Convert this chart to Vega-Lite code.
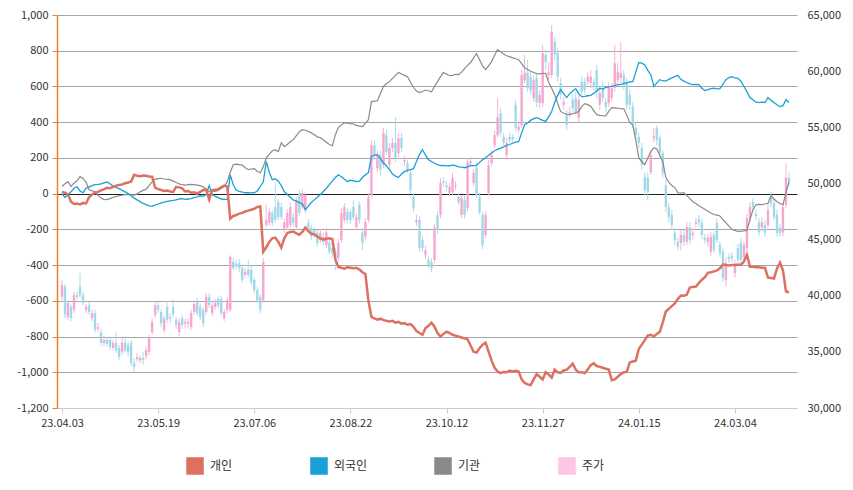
{
"$schema":"https://vega.github.io/schema/vega-lite/v6.json",
"width":740,"height":393,
"autosize":{"type":"none"},
"padding":{"left":57,"top":15,"right":56,"bottom":82},
"config":{"font":"Noto Sans CJK KR","view":{"stroke":null},"axis":{"labelFontSize":11,"labelColor":"#333333","labelFont":"Noto Sans CJK KR"}},
"data":{"values":[
{"i":0,"o":39900,"c":40950,"h":41400,"l":39600,"a":10,"b":0,"g":40},
{"i":1,"o":40800,"c":38300,"h":41050,"l":38000,"a":5,"b":-22,"g":55},
{"i":2,"o":38100,"c":39350,"h":39600,"l":37850,"a":-5,"b":-5,"g":67},
{"i":3,"o":39000,"c":38000,"h":39250,"l":37750,"a":-45,"b":10,"g":40},
{"i":4,"o":38750,"c":40050,"h":40350,"l":38450,"a":-58,"b":30,"g":60},
{"i":5,"o":40050,"c":39900,"h":40400,"l":39600,"a":-55,"b":38,"g":72},
{"i":6,"o":40800,"c":40050,"h":42000,"l":39800,"a":-60,"b":15,"g":95},
{"i":7,"o":40050,"c":39350,"h":40350,"l":39150,"a":-52,"b":5,"g":85},
{"i":8,"o":38750,"c":39000,"h":39250,"l":38450,"a":-55,"b":30,"g":65},
{"i":9,"o":39150,"c":38550,"h":39450,"l":38300,"a":-20,"b":38,"g":22},
{"i":10,"o":38000,"c":38450,"h":38750,"l":37750,"a":-5,"b":45,"g":15},
{"i":11,"o":38450,"c":36950,"h":38750,"l":36700,"a":5,"b":50,"g":12},
{"i":12,"o":37050,"c":37200,"h":37550,"l":36750,"a":10,"b":52,"g":-10},
{"i":13,"o":36750,"c":35800,"h":37050,"l":35500,"a":18,"b":55,"g":-25},
{"i":14,"o":35800,"c":36050,"h":36400,"l":35500,"a":25,"b":60,"g":-33},
{"i":15,"o":36050,"c":35700,"h":36300,"l":35450,"a":33,"b":65,"g":-32},
{"i":16,"o":36050,"c":35450,"h":36400,"l":35150,"a":30,"b":55,"g":-28},
{"i":17,"o":35350,"c":35800,"h":36050,"l":35100,"a":38,"b":42,"g":-20},
{"i":18,"o":35800,"c":35150,"h":36750,"l":34900,"a":45,"b":35,"g":-17},
{"i":19,"o":35350,"c":34550,"h":35600,"l":34250,"a":48,"b":28,"g":-12},
{"i":20,"o":35000,"c":35800,"h":36250,"l":34700,"a":52,"b":18,"g":-8},
{"i":21,"o":35800,"c":35150,"h":36400,"l":34900,"a":58,"b":10,"g":-5},
{"i":22,"o":35600,"c":35000,"h":35900,"l":34650,"a":62,"b":0,"g":-6},
{"i":23,"o":35800,"c":34000,"h":36050,"l":33750,"a":68,"b":-12,"g":-5},
{"i":24,"o":34000,"c":33650,"h":34450,"l":33200,"a":105,"b":-25,"g":-8},
{"i":25,"o":34350,"c":34550,"h":34900,"l":34100,"a":100,"b":-35,"g":-2},
{"i":26,"o":34250,"c":34450,"h":34700,"l":34000,"a":98,"b":-45,"g":10},
{"i":27,"o":34450,"c":34250,"h":35000,"l":33850,"a":102,"b":-55,"g":18},
{"i":28,"o":34650,"c":35150,"h":35450,"l":34350,"a":100,"b":-62,"g":25},
{"i":29,"o":35000,"c":36250,"h":36500,"l":34700,"a":96,"b":-68,"g":45},
{"i":30,"o":36750,"c":37650,"h":38000,"l":36500,"a":95,"b":-70,"g":67},
{"i":31,"o":38300,"c":39150,"h":39450,"l":38000,"a":33,"b":-65,"g":80},
{"i":32,"o":39150,"c":38750,"h":39450,"l":38450,"a":25,"b":-58,"g":84},
{"i":33,"o":38550,"c":37550,"h":38800,"l":37200,"a":20,"b":-52,"g":86},
{"i":34,"o":36950,"c":37950,"h":38200,"l":36700,"a":15,"b":-48,"g":82},
{"i":35,"o":39000,"c":37850,"h":39350,"l":37550,"a":18,"b":-43,"g":80},
{"i":36,"o":38100,"c":37950,"h":38450,"l":37550,"a":12,"b":-40,"g":78},
{"i":37,"o":39000,"c":38350,"h":39700,"l":38100,"a":10,"b":-38,"g":70},
{"i":38,"o":37850,"c":37400,"h":38100,"l":37050,"a":38,"b":-35,"g":62},
{"i":39,"o":36750,"c":37650,"h":38000,"l":36400,"a":35,"b":-30,"g":55},
{"i":40,"o":38000,"c":37400,"h":38300,"l":37050,"a":30,"b":-28,"g":50},
{"i":41,"o":37500,"c":37650,"h":37950,"l":37100,"a":12,"b":-32,"g":48},
{"i":42,"o":37500,"c":37650,"h":38000,"l":37050,"a":15,"b":-30,"g":50},
{"i":43,"o":37200,"c":38450,"h":38750,"l":36950,"a":5,"b":-28,"g":52},
{"i":44,"o":38550,"c":39250,"h":39600,"l":38300,"a":8,"b":-22,"g":50},
{"i":45,"o":39450,"c":38450,"h":39800,"l":38200,"a":0,"b":-18,"g":48},
{"i":46,"o":39000,"c":38100,"h":39350,"l":37850,"a":10,"b":-12,"g":45},
{"i":47,"o":38750,"c":37550,"h":39000,"l":37200,"a":20,"b":-15,"g":39},
{"i":48,"o":38550,"c":39900,"h":40250,"l":38300,"a":22,"b":-5,"g":25},
{"i":49,"o":39900,"c":39150,"h":40250,"l":38900,"a":-33,"b":45,"g":11},
{"i":50,"o":38450,"c":39150,"h":39450,"l":38200,"a":20,"b":-5,"g":15},
{"i":51,"o":39000,"c":39350,"h":39700,"l":38750,"a":22,"b":-15,"g":12},
{"i":52,"o":39700,"c":39150,"h":39950,"l":38900,"a":25,"b":-22,"g":18},
{"i":53,"o":39700,"c":38450,"h":39950,"l":38200,"a":35,"b":-30,"g":30},
{"i":54,"o":38000,"c":38550,"h":38800,"l":37750,"a":45,"b":-32,"g":40},
{"i":55,"o":38750,"c":39600,"h":39900,"l":38450,"a":40,"b":-32,"g":67},
{"i":56,"o":38750,"c":43450,"h":43600,"l":38550,"a":-140,"b":105,"g":120},
{"i":57,"o":43000,"c":42450,"h":43350,"l":42300,"a":-125,"b":50,"g":162},
{"i":58,"o":42800,"c":42650,"h":43200,"l":42300,"a":-120,"b":20,"g":165},
{"i":59,"o":42900,"c":42450,"h":43250,"l":42100,"a":-112,"b":12,"g":162},
{"i":60,"o":42450,"c":41400,"h":42750,"l":41150,"a":-108,"b":8,"g":160},
{"i":61,"o":41850,"c":42100,"h":42450,"l":41600,"a":-100,"b":5,"g":145},
{"i":62,"o":42300,"c":41850,"h":43200,"l":41600,"a":-95,"b":6,"g":134},
{"i":63,"o":42300,"c":41200,"h":42650,"l":40950,"a":-90,"b":4,"g":138},
{"i":64,"o":41400,"c":40500,"h":41650,"l":40250,"a":-85,"b":5,"g":140},
{"i":65,"o":40500,"c":39600,"h":40800,"l":39350,"a":-75,"b":15,"g":125},
{"i":66,"o":39900,"c":38750,"h":40150,"l":38450,"a":-72,"b":40,"g":117},
{"i":67,"o":39600,"c":43000,"h":43350,"l":39350,"a":-325,"b":65,"g":150},
{"i":68,"o":46300,"c":46750,"h":48100,"l":46050,"a":-300,"b":180,"g":200},
{"i":69,"o":46500,"c":47450,"h":47800,"l":46200,"a":-270,"b":120,"g":220},
{"i":70,"o":47350,"c":46500,"h":47650,"l":46200,"a":-250,"b":78,"g":240},
{"i":71,"o":47900,"c":46750,"h":50050,"l":46500,"a":-246,"b":82,"g":246},
{"i":72,"o":48350,"c":47000,"h":48600,"l":46750,"a":-270,"b":70,"g":235},
{"i":73,"o":47900,"c":47000,"h":48250,"l":46750,"a":-302,"b":45,"g":285},
{"i":74,"o":45850,"c":46550,"h":46900,"l":45600,"a":-250,"b":12,"g":263},
{"i":75,"o":46100,"c":47350,"h":47700,"l":45850,"a":-220,"b":-5,"g":275},
{"i":76,"o":46300,"c":47900,"h":48250,"l":46050,"a":-215,"b":-20,"g":290},
{"i":77,"o":47000,"c":46500,"h":47350,"l":46200,"a":-212,"b":-35,"g":302},
{"i":78,"o":46100,"c":48500,"h":48800,"l":45850,"a":-222,"b":-42,"g":325},
{"i":79,"o":49150,"c":47350,"h":49400,"l":47100,"a":-230,"b":-50,"g":347},
{"i":80,"o":47900,"c":49150,"h":49500,"l":47650,"a":-215,"b":-57,"g":358},
{"i":81,"o":47650,"c":48950,"h":49250,"l":47350,"a":-190,"b":-90,"g":355},
{"i":82,"o":46500,"c":46050,"h":46850,"l":45750,"a":-210,"b":-70,"g":348},
{"i":83,"o":46050,"c":45250,"h":46300,"l":44950,"a":-225,"b":-50,"g":340},
{"i":84,"o":45850,"c":45400,"h":46100,"l":45150,"a":-228,"b":-35,"g":330},
{"i":85,"o":45600,"c":44700,"h":45850,"l":44400,"a":-240,"b":-20,"g":318},
{"i":86,"o":44950,"c":45600,"h":45950,"l":44700,"a":-250,"b":-5,"g":313},
{"i":87,"o":45250,"c":44800,"h":45600,"l":44500,"a":-258,"b":12,"g":300},
{"i":88,"o":44500,"c":45650,"h":46050,"l":44250,"a":-252,"b":30,"g":288},
{"i":89,"o":44700,"c":43900,"h":44950,"l":43600,"a":-250,"b":50,"g":275},
{"i":90,"o":44250,"c":43800,"h":44600,"l":43450,"a":-255,"b":70,"g":268},
{"i":91,"o":43900,"c":43350,"h":44250,"l":42300,"a":-370,"b":90,"g":330},
{"i":92,"o":43350,"c":44700,"h":45050,"l":43100,"a":-410,"b":106,"g":370},
{"i":93,"o":44950,"c":47350,"h":47800,"l":44700,"a":-415,"b":95,"g":385},
{"i":94,"o":46750,"c":47900,"h":48250,"l":46500,"a":-420,"b":80,"g":397},
{"i":95,"o":47450,"c":46750,"h":47800,"l":46400,"a":-412,"b":67,"g":395},
{"i":96,"o":47450,"c":46750,"h":47700,"l":46400,"a":-415,"b":75,"g":392},
{"i":97,"o":47900,"c":47000,"h":48500,"l":46750,"a":-418,"b":72,"g":390},
{"i":98,"o":46100,"c":47000,"h":47350,"l":45850,"a":-415,"b":68,"g":382},
{"i":99,"o":48100,"c":46750,"h":48400,"l":46400,"a":-425,"b":70,"g":378},
{"i":100,"o":45650,"c":44700,"h":46050,"l":44050,"a":-440,"b":90,"g":375},
{"i":101,"o":45250,"c":46550,"h":46900,"l":44950,"a":-450,"b":105,"g":395},
{"i":102,"o":46750,"c":48800,"h":49150,"l":46500,"a":-600,"b":117,"g":414},
{"i":103,"o":48950,"c":53400,"h":53850,"l":48800,"a":-690,"b":208,"g":515},
{"i":104,"o":53400,"c":52550,"h":53850,"l":52100,"a":-698,"b":215,"g":518},
{"i":105,"o":51350,"c":52550,"h":52950,"l":51000,"a":-705,"b":218,"g":520},
{"i":106,"o":52550,"c":51200,"h":52950,"l":50750,"a":-700,"b":195,"g":560},
{"i":107,"o":51650,"c":54500,"h":54950,"l":51350,"a":-708,"b":173,"g":600},
{"i":108,"o":54300,"c":52800,"h":54750,"l":52550,"a":-712,"b":155,"g":615},
{"i":109,"o":51650,"c":53150,"h":53600,"l":51350,"a":-715,"b":134,"g":627},
{"i":110,"o":53150,"c":53600,"h":54050,"l":52800,"a":-712,"b":110,"g":645},
{"i":111,"o":53600,"c":52250,"h":55900,"l":51900,"a":-722,"b":98,"g":662},
{"i":112,"o":52700,"c":54050,"h":54500,"l":52350,"a":-718,"b":90,"g":678},
{"i":113,"o":54050,"c":53150,"h":54500,"l":52800,"a":-728,"b":110,"g":670},
{"i":114,"o":51900,"c":52100,"h":52450,"l":51550,"a":-725,"b":123,"g":662},
{"i":115,"o":51800,"c":51200,"h":52100,"l":50950,"a":-734,"b":130,"g":655},
{"i":116,"o":50950,"c":49400,"h":51200,"l":49150,"a":-730,"b":135,"g":625},
{"i":117,"o":48800,"c":47800,"h":49150,"l":47450,"a":-745,"b":140,"g":594},
{"i":118,"o":46550,"c":46750,"h":47200,"l":46200,"a":-770,"b":180,"g":575},
{"i":119,"o":46750,"c":44250,"h":47100,"l":43900,"a":-780,"b":220,"g":566},
{"i":120,"o":44950,"c":44250,"h":45300,"l":43900,"a":-790,"b":246,"g":572},
{"i":121,"o":43600,"c":44050,"h":44450,"l":43250,"a":-752,"b":215,"g":580},
{"i":122,"o":43200,"c":42750,"h":43550,"l":42450,"a":-740,"b":190,"g":576},
{"i":123,"o":43000,"c":42450,"h":43350,"l":42100,"a":-722,"b":180,"g":570},
{"i":124,"o":43200,"c":46050,"h":46400,"l":42900,"a":-745,"b":170,"g":600},
{"i":125,"o":47200,"c":45850,"h":47550,"l":45500,"a":-780,"b":162,"g":627},
{"i":126,"o":47200,"c":50050,"h":50500,"l":46900,"a":-800,"b":157,"g":655},
{"i":127,"o":50200,"c":50050,"h":50550,"l":49700,"a":-785,"b":158,"g":678},
{"i":128,"o":49850,"c":49700,"h":50200,"l":49300,"a":-773,"b":155,"g":670},
{"i":129,"o":49150,"c":49700,"h":50050,"l":48900,"a":-780,"b":156,"g":660},
{"i":130,"o":49250,"c":50500,"h":50950,"l":48950,"a":-790,"b":160,"g":662},
{"i":131,"o":49750,"c":49850,"h":50200,"l":49400,"a":-795,"b":157,"g":668},
{"i":132,"o":48800,"c":48350,"h":49150,"l":48100,"a":-800,"b":150,"g":666},
{"i":133,"o":47200,"c":48700,"h":48950,"l":46900,"a":-805,"b":148,"g":680},
{"i":134,"o":48500,"c":47200,"h":48900,"l":46900,"a":-810,"b":145,"g":700},
{"i":135,"o":47800,"c":51900,"h":52250,"l":47550,"a":-815,"b":150,"g":718},
{"i":136,"o":51800,"c":52000,"h":52350,"l":51450,"a":-850,"b":158,"g":734},
{"i":137,"o":50050,"c":50950,"h":51300,"l":49750,"a":-885,"b":155,"g":760},
{"i":138,"o":51450,"c":48950,"h":51800,"l":48700,"a":-890,"b":160,"g":784},
{"i":139,"o":48800,"c":47450,"h":49150,"l":47200,"a":-865,"b":175,"g":750},
{"i":140,"o":47200,"c":44500,"h":47450,"l":44150,"a":-845,"b":190,"g":715},
{"i":141,"o":45400,"c":47200,"h":47550,"l":45150,"a":-834,"b":200,"g":694},
{"i":142,"o":49150,"c":51650,"h":52100,"l":48900,"a":-885,"b":215,"g":715},
{"i":143,"o":51800,"c":52550,"h":52950,"l":51550,"a":-935,"b":228,"g":739},
{"i":144,"o":53400,"c":54300,"h":54750,"l":53150,"a":-975,"b":240,"g":775},
{"i":145,"o":54300,"c":55900,"h":57600,"l":54050,"a":-996,"b":248,"g":806},
{"i":146,"o":56250,"c":54500,"h":56700,"l":54150,"a":-1005,"b":255,"g":795},
{"i":147,"o":54150,"c":53600,"h":54500,"l":53350,"a":-998,"b":262,"g":782},
{"i":148,"o":52550,"c":53600,"h":54050,"l":52100,"a":-1000,"b":270,"g":772},
{"i":149,"o":54150,"c":53850,"h":54500,"l":53600,"a":-990,"b":275,"g":767},
{"i":150,"o":54150,"c":53950,"h":54400,"l":53700,"a":-995,"b":282,"g":760},
{"i":151,"o":57000,"c":54950,"h":57450,"l":54650,"a":-992,"b":288,"g":755},
{"i":152,"o":54750,"c":55050,"h":55400,"l":54500,"a":-996,"b":291,"g":750},
{"i":153,"o":55200,"c":59650,"h":60100,"l":54950,"a":-1040,"b":340,"g":728},
{"i":154,"o":59200,"c":59850,"h":61450,"l":58950,"a":-1060,"b":386,"g":705},
{"i":155,"o":59850,"c":58500,"h":61000,"l":58150,"a":-1068,"b":395,"g":695},
{"i":156,"o":59500,"c":58300,"h":59900,"l":57900,"a":-1072,"b":410,"g":685},
{"i":157,"o":57600,"c":59200,"h":59650,"l":57250,"a":-1040,"b":420,"g":678},
{"i":158,"o":59400,"c":57250,"h":59850,"l":56800,"a":-1010,"b":425,"g":672},
{"i":159,"o":57150,"c":57900,"h":58300,"l":56700,"a":-1025,"b":418,"g":670},
{"i":160,"o":57150,"c":61600,"h":62350,"l":56800,"a":-1040,"b":410,"g":674},
{"i":161,"o":61450,"c":60800,"h":61900,"l":60100,"a":-1000,"b":404,"g":672},
{"i":162,"o":59650,"c":59900,"h":60800,"l":59200,"a":-1012,"b":430,"g":622},
{"i":163,"o":59650,"c":63500,"h":64100,"l":59400,"a":-1030,"b":460,"g":590},
{"i":164,"o":62600,"c":61450,"h":63050,"l":61000,"a":-985,"b":510,"g":554},
{"i":165,"o":61600,"c":59500,"h":62050,"l":59050,"a":-1000,"b":550,"g":505},
{"i":166,"o":58950,"c":57900,"h":59400,"l":57450,"a":-1003,"b":582,"g":460},
{"i":167,"o":57000,"c":57250,"h":57700,"l":56550,"a":-990,"b":560,"g":450},
{"i":168,"o":56100,"c":55200,"h":56550,"l":54750,"a":-985,"b":538,"g":445},
{"i":169,"o":56250,"c":56350,"h":56800,"l":55850,"a":-970,"b":560,"g":442},
{"i":170,"o":57450,"c":56700,"h":57900,"l":56350,"a":-952,"b":575,"g":448},
{"i":171,"o":57600,"c":56350,"h":58150,"l":56100,"a":-985,"b":588,"g":452},
{"i":172,"o":55850,"c":57450,"h":57900,"l":55400,"a":-1000,"b":560,"g":460},
{"i":173,"o":59050,"c":58150,"h":59500,"l":57900,"a":-1000,"b":543,"g":487},
{"i":174,"o":59050,"c":58300,"h":59400,"l":57900,"a":-1005,"b":545,"g":504},
{"i":175,"o":59050,"c":59500,"h":59900,"l":58750,"a":-985,"b":548,"g":498},
{"i":176,"o":58950,"c":59500,"h":60100,"l":58500,"a":-960,"b":550,"g":490},
{"i":177,"o":59050,"c":58750,"h":59400,"l":58300,"a":-950,"b":562,"g":465},
{"i":178,"o":60100,"c":58150,"h":60550,"l":57600,"a":-965,"b":575,"g":442},
{"i":179,"o":57000,"c":58050,"h":58500,"l":56550,"a":-970,"b":590,"g":438},
{"i":180,"o":58500,"c":57600,"h":59050,"l":57250,"a":-975,"b":585,"g":436},
{"i":181,"o":57250,"c":56800,"h":57600,"l":56350,"a":-980,"b":595,"g":435},
{"i":182,"o":57150,"c":58500,"h":59050,"l":56800,"a":-985,"b":598,"g":460},
{"i":183,"o":57600,"c":58500,"h":58950,"l":57250,"a":-1045,"b":600,"g":482},
{"i":184,"o":58500,"c":60700,"h":62350,"l":58150,"a":-1040,"b":605,"g":480},
{"i":185,"o":59200,"c":59900,"h":60800,"l":58750,"a":-1025,"b":610,"g":478},
{"i":186,"o":59400,"c":59850,"h":62600,"l":58950,"a":-1010,"b":612,"g":476},
{"i":187,"o":59650,"c":58750,"h":60100,"l":58300,"a":-1000,"b":616,"g":475},
{"i":188,"o":59050,"c":57000,"h":59400,"l":56550,"a":-998,"b":620,"g":440},
{"i":189,"o":57900,"c":57000,"h":58300,"l":56550,"a":-945,"b":625,"g":397},
{"i":190,"o":56800,"c":55200,"h":57250,"l":54950,"a":-940,"b":627,"g":385},
{"i":191,"o":54950,"c":54300,"h":55400,"l":53850,"a":-935,"b":680,"g":300},
{"i":192,"o":54150,"c":53600,"h":54500,"l":53150,"a":-870,"b":734,"g":200},
{"i":193,"o":53150,"c":51650,"h":53600,"l":51200,"a":-845,"b":730,"g":180},
{"i":194,"o":50550,"c":49400,"h":51000,"l":48950,"a":-820,"b":720,"g":162},
{"i":195,"o":50500,"c":49250,"h":50950,"l":48500,"a":-795,"b":690,"g":200},
{"i":196,"o":51000,"c":52550,"h":52950,"l":50750,"a":-790,"b":666,"g":235},
{"i":197,"o":54050,"c":54200,"h":54950,"l":53700,"a":-800,"b":600,"g":257},
{"i":198,"o":54950,"c":53850,"h":55200,"l":53400,"a":-785,"b":620,"g":250},
{"i":199,"o":54050,"c":52700,"h":54300,"l":52250,"a":-773,"b":638,"g":215},
{"i":200,"o":52700,"c":50950,"h":52950,"l":50550,"a":-720,"b":632,"g":180},
{"i":201,"o":49850,"c":47900,"h":50300,"l":47450,"a":-660,"b":630,"g":90},
{"i":202,"o":47900,"c":47000,"h":48250,"l":46550,"a":-645,"b":640,"g":65},
{"i":203,"o":47200,"c":46300,"h":47650,"l":45850,"a":-630,"b":648,"g":45},
{"i":204,"o":45600,"c":44950,"h":46050,"l":44500,"a":-615,"b":655,"g":34},
{"i":205,"o":44800,"c":44350,"h":45150,"l":44050,"a":-590,"b":662,"g":5},
{"i":206,"o":44700,"c":45400,"h":45850,"l":44050,"a":-570,"b":640,"g":3},
{"i":207,"o":45400,"c":44800,"h":45850,"l":44400,"a":-572,"b":630,"g":5},
{"i":208,"o":44800,"c":46100,"h":46550,"l":44500,"a":-565,"b":622,"g":-11},
{"i":209,"o":46100,"c":44950,"h":46550,"l":44600,"a":-526,"b":615,"g":-28},
{"i":210,"o":45400,"c":45600,"h":46050,"l":44950,"a":-522,"b":610,"g":-45},
{"i":211,"o":46400,"c":46550,"h":46900,"l":46050,"a":-520,"b":612,"g":-55},
{"i":212,"o":46850,"c":46500,"h":47200,"l":46100,"a":-500,"b":610,"g":-68},
{"i":213,"o":46500,"c":45400,"h":46850,"l":45050,"a":-482,"b":590,"g":-78},
{"i":214,"o":45150,"c":44950,"h":45500,"l":44600,"a":-468,"b":577,"g":-88},
{"i":215,"o":44800,"c":45150,"h":45500,"l":44400,"a":-443,"b":582,"g":-98},
{"i":216,"o":43900,"c":45250,"h":45650,"l":43550,"a":-440,"b":588,"g":-108},
{"i":217,"o":45400,"c":44050,"h":45750,"l":43800,"a":-435,"b":590,"g":-117},
{"i":218,"o":46500,"c":44950,"h":46900,"l":44700,"a":-430,"b":586,"g":-120},
{"i":219,"o":44500,"c":43800,"h":44850,"l":43450,"a":-418,"b":588,"g":-125},
{"i":220,"o":43900,"c":41600,"h":44250,"l":41200,"a":-397,"b":612,"g":-145},
{"i":221,"o":41400,"c":42900,"h":43350,"l":40800,"a":-400,"b":638,"g":-162},
{"i":222,"o":43450,"c":43250,"h":43800,"l":42900,"a":-402,"b":650,"g":-182},
{"i":223,"o":43550,"c":43350,"h":43900,"l":43000,"a":-400,"b":655,"g":-200},
{"i":224,"o":42000,"c":42750,"h":43200,"l":41600,"a":-400,"b":648,"g":-206},
{"i":225,"o":44250,"c":43200,"h":44600,"l":42800,"a":-398,"b":645,"g":-212},
{"i":226,"o":44700,"c":43200,"h":45150,"l":42750,"a":-398,"b":630,"g":-210},
{"i":227,"o":43450,"c":44500,"h":44850,"l":43000,"a":-380,"b":600,"g":-208},
{"i":228,"o":44250,"c":46900,"h":47300,"l":43900,"a":-342,"b":570,"g":-205},
{"i":229,"o":46900,"c":47900,"h":48350,"l":46550,"a":-409,"b":538,"g":-145},
{"i":230,"o":48350,"c":47900,"h":48700,"l":47650,"a":-410,"b":525,"g":-90},
{"i":231,"o":47300,"c":47100,"h":47700,"l":46750,"a":-412,"b":512,"g":-62},
{"i":232,"o":46550,"c":45650,"h":46900,"l":45300,"a":-412,"b":510,"g":-60},
{"i":233,"o":46100,"c":46550,"h":47000,"l":45750,"a":-415,"b":512,"g":-62},
{"i":234,"o":46300,"c":45600,"h":46750,"l":45250,"a":-415,"b":510,"g":-58},
{"i":235,"o":46300,"c":47650,"h":48100,"l":46050,"a":-470,"b":538,"g":-55},
{"i":236,"o":48800,"c":48250,"h":49250,"l":47900,"a":-472,"b":522,"g":-11},
{"i":237,"o":48250,"c":47000,"h":48700,"l":46750,"a":-475,"b":510,"g":-30},
{"i":238,"o":47200,"c":45600,"h":47650,"l":45250,"a":-420,"b":498,"g":-45},
{"i":239,"o":46050,"c":45600,"h":46400,"l":45250,"a":-386,"b":487,"g":-55},
{"i":240,"o":45650,"c":47900,"h":48250,"l":45300,"a":-430,"b":492,"g":-62},
{"i":241,"o":48100,"c":50500,"h":51800,"l":47800,"a":-548,"b":526,"g":5},
{"i":242,"o":50500,"c":50150,"h":51000,"l":49750,"a":-552,"b":510,"g":67}
]},
"encoding":{"x":{"field":"i","type":"quantitative","title":null,"scale":{"domain":[0,243],"nice":false,"zero":false},
"axis":{"values":[0,32,64,96,128,160,192,224],"tickCount":20,"labelExpr":"['23.04.03','23.05.19','23.07.06','23.08.22','23.10.12','23.11.27','24.01.15','24.03.04'][round(datum.value/32)]","grid":false,"domainColor":"#cccccc","tickColor":"#cccccc","tickSize":5,"labelPadding":4}}},
"layer":[
{"layer":[
{"mark":{"type":"rule","strokeWidth":1},"encoding":{
"y":{"field":"l","type":"quantitative","title":null,"scale":{"domain":[30000,65000],"nice":false,"zero":false},
"axis":{"orient":"right","values":[30000,35000,40000,45000,50000,55000,60000,65000],"tickCount":20,"labelExpr":"format(datum.value, ',')","domain":false,"ticks":false,"grid":false,"labelPadding":10}},
"y2":{"field":"h"},
"stroke":{"condition":{"test":"datum.c >= datum.o","value":"#f5b5d6"},"value":"#a9dcec"}}},
{"mark":{"type":"bar","size":2.4},"encoding":{
"y":{"field":"o","type":"quantitative","title":null},
"y2":{"field":"c"},
"fill":{"condition":{"test":"datum.c >= datum.o","value":"#f6a7cf"},"value":"#a2d8e9"}}}
]},
{"layer":[
{"mark":{"type":"line","strokeWidth":1.2},"encoding":{
"y":{"field":"g","type":"quantitative","title":null,"scale":{"domain":[-1200,1000],"nice":false,"zero":false},
"axis":{"orient":"left","values":[-1200,-1000,-800,-600,-400,-200,0,200,400,600,800,1000],"tickCount":30,"labelExpr":"replace(format(datum.value, ','), '\u2212', '-')","grid":true,"gridColor":{"condition":{"test":"datum.value === 0","value":"#222222"},"value":"#a6a6a6"},"gridWidth":1,"domainColor":"#e8822e","domainWidth":1.5,"tickColor":"#e8822e","tickSize":5,"labelPadding":4}},
"color":{"datum":"기관","type":"nominal","scale":{"domain":["개인","외국인","기관","주가"],"range":["#dd7060","#1a9fd6","#8a8a8a","#fdc6e6"]},
"legend":{"title":null,"orient":"none","legendX":129,"legendY":442,"direction":"horizontal","symbolType":"square","symbolSize":256,"symbolStrokeWidth":1.5,"symbolOpacity":1,"labelFontSize":12,"labelColor":"#333333","labelFont":"Noto Sans CJK KR","labelOffset":6,"columnPadding":64,"gridAlign":"all","padding":0,
"encode":{"symbols":{"update":{"fill":{"scale":"color","field":"value"},"stroke":{"signal":"datum.value === '주가' ? '#d04ca0' : scale('color', datum.value)"}}}}}}}},
{"mark":{"type":"line","strokeWidth":1.3},"encoding":{"y":{"field":"b","type":"quantitative","title":null},"color":{"datum":"외국인","type":"nominal"}}},
{"mark":{"type":"line","strokeWidth":2.5},"encoding":{"y":{"field":"a","type":"quantitative","title":null},"color":{"datum":"개인","type":"nominal"}}}
]}
],
"resolve":{"scale":{"y":"independent"},"axis":{"y":"independent"}}
}
